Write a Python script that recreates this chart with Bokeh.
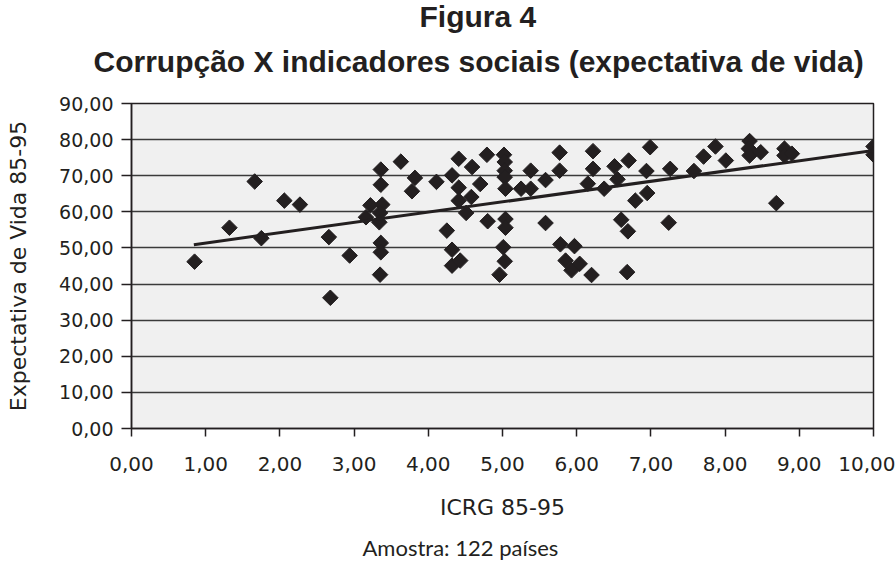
import numpy as np
from bokeh.plotting import figure
from bokeh.models import Range1d, FixedTicker, Title
from bokeh.embed import file_html
from bokeh.resources import INLINE

# ICRG 85-95 (x) and life expectancy 85-95 (y)
icrg = [0.85, 1.32, 1.66, 1.75, 2.06, 2.27,
        2.66, 2.68, 2.94, 3.16, 3.22, 3.36, 3.36, 3.38, 3.35, 3.34, 3.36, 3.36, 3.35,
        3.63, 3.82, 3.78, 4.11, 4.25, 4.32, 4.41, 4.41, 4.41, 4.51, 4.32, 4.32, 4.43,
        4.59, 4.70, 4.58, 4.79, 4.80,
        5.02, 5.03, 5.03, 5.03, 5.04, 5.25, 5.38, 5.38, 5.58, 5.77, 5.77, 5.04, 5.04,
        5.58, 5.01, 5.03, 4.96, 5.78, 5.97, 5.85, 5.93, 6.04, 6.20, 6.22, 6.22, 6.15,
        6.37, 6.51, 6.55, 6.70, 6.60, 6.69, 6.68, 6.79, 6.94, 6.99, 6.95, 7.26, 7.24,
        7.58, 7.71, 7.87, 8.01, 8.33, 8.32, 8.33, 8.48, 8.69, 8.80, 8.80, 8.90,
        10.0, 10.0]
expectativa = [46.2, 55.6, 68.4, 52.7, 63.1, 62.0,
               53.0, 36.2, 47.9, 58.5, 61.8, 71.7, 67.5, 62.0, 59.7, 57.1, 51.4, 48.8, 42.6,
               73.9, 69.4, 65.7, 68.3, 54.8, 70.1, 74.7, 66.7, 63.1, 59.7, 49.5, 45.1, 46.5,
               72.4, 67.7, 64.1, 75.8, 57.4,
               75.8, 73.8, 71.4, 69.6, 66.4, 66.4, 71.4, 66.4, 68.8, 76.4, 71.4, 58.0, 55.6,
               56.9, 50.2, 46.3, 42.6, 51.0, 50.5, 46.5, 43.8, 45.6, 42.5, 76.8, 71.9, 67.8,
               66.4, 72.6, 69.0, 74.2, 57.8, 54.6, 43.3, 63.1, 71.3, 77.9, 65.2, 71.9, 57.0,
               71.3, 75.3, 78.1, 74.2, 79.6, 77.5, 75.6, 76.5, 62.4, 77.5, 75.6, 76.1,
               78.1, 75.8]

# linear trend line of the full sample (122 countries)
trend_x = [0.84, 10.0]
trend_y = [50.9, 77.0]

x_ticks = [0, 1, 2, 3, 4, 5, 6, 7, 8, 9, 10]
x_tick_labels = ["0,00", "1,00", "2,00", "3,00", "4,00", "5,00",
                 "6,00", "7,00", "8,00", "9,00", "10,00"]
y_ticks = [0, 10, 20, 30, 40, 50, 60, 70, 80, 90]
y_tick_labels = ["0,00", "10,00", "20,00", "30,00", "40,00",
                 "50,00", "60,00", "70,00", "80,00", "90,00"]

title_line1 = "Figura 4"
title_line2 = "Corrupção X indicadores sociais (expectativa de vida)"
x_label = "ICRG 85-95"
y_label = "Expectativa de Vida 85-95"
note = "Amostra: 122 países"

INK = "#231f20"

p = figure(width=895, height=570, output_backend="svg", toolbar_location=None,
           x_range=Range1d(0, 10), y_range=Range1d(0, 90),
           min_border_left=131, min_border_right=22,
           min_border_top=103, min_border_bottom=142)

p.background_fill_color = "#f0f0f0"
p.border_fill_color = "white"
p.outline_line_color = INK
p.outline_line_width = 1.5

# two-line heading (p.title is the outer line; the added one sits next to the plot)
p.title.text = title_line1
p.title.text_font = "Liberation Sans"
p.title.text_font_size = "30px"
p.title.text_font_style = "bold"
p.title.text_color = INK
p.title.align = "left"
p.title.offset = 288
p.title.vertical_align = "bottom"
p.title.standoff = -30
t2 = Title(text=title_line2, text_font="Liberation Sans", text_font_size="30px",
           text_font_style="bold", text_color=INK, align="left", offset=-38,
           vertical_align="bottom", standoff=51)
p.add_layout(t2, "above")

# grids
p.xgrid.visible = False
p.ygrid.ticker = FixedTicker(ticks=y_ticks)
p.ygrid.grid_line_color = "#3a3a3a"
p.ygrid.grid_line_width = 1.5

# x axis
p.xaxis.ticker = FixedTicker(ticks=x_ticks)
p.xaxis.major_label_overrides = dict(zip(x_ticks, x_tick_labels))
p.xaxis.axis_line_color = INK
p.xaxis.axis_line_width = 1.5
p.xaxis.major_tick_line_color = INK
p.xaxis.major_tick_line_width = 1.5
p.xaxis.major_tick_in = 0
p.xaxis.major_tick_out = 8
p.xaxis.minor_tick_line_color = None
p.xaxis.major_label_standoff = 20
p.xaxis.major_label_text_font = "DejaVu Sans"
p.xaxis.major_label_text_font_size = "20px"
p.xaxis.major_label_text_color = INK
p.xaxis.axis_label = x_label
p.xaxis.axis_label_text_font = "DejaVu Sans"
p.xaxis.axis_label_text_font_size = "22px"
p.xaxis.axis_label_text_font_style = "normal"
p.xaxis.axis_label_text_color = INK
p.xaxis.axis_label_standoff = 21

# y axis
p.yaxis.ticker = FixedTicker(ticks=y_ticks)
p.yaxis.major_label_overrides = dict(zip(y_ticks, y_tick_labels))
p.yaxis.axis_line_color = INK
p.yaxis.axis_line_width = 1.5
p.yaxis.major_tick_line_color = INK
p.yaxis.major_tick_line_width = 1.5
p.yaxis.major_tick_in = 0
p.yaxis.major_tick_out = 10
p.yaxis.minor_tick_line_color = None
p.yaxis.major_label_standoff = 8
p.yaxis.major_label_text_font = "DejaVu Sans"
p.yaxis.major_label_text_font_size = "19px"
p.yaxis.major_label_text_color = INK
p.yaxis.axis_label = y_label
p.yaxis.axis_label_text_font = "DejaVu Sans"
p.yaxis.axis_label_text_font_size = "22px"
p.yaxis.axis_label_text_font_style = "normal"
p.yaxis.axis_label_text_color = INK
p.yaxis.axis_label_standoff = 25

# note below
p.add_layout(Title(text=note, text_font="Lato", text_font_size="22px",
                   text_font_style="normal", text_color=INK, align="left",
                   offset=231, standoff=18), "below")

# data
p.scatter(icrg, expectativa, marker="square", size=11, angle=np.pi / 4,
          fill_color=INK, line_color=INK)

# trend line
p.line(trend_x, trend_y, line_color=INK, line_width=3)

open("out.html", "w").write(file_html(p, INLINE))
